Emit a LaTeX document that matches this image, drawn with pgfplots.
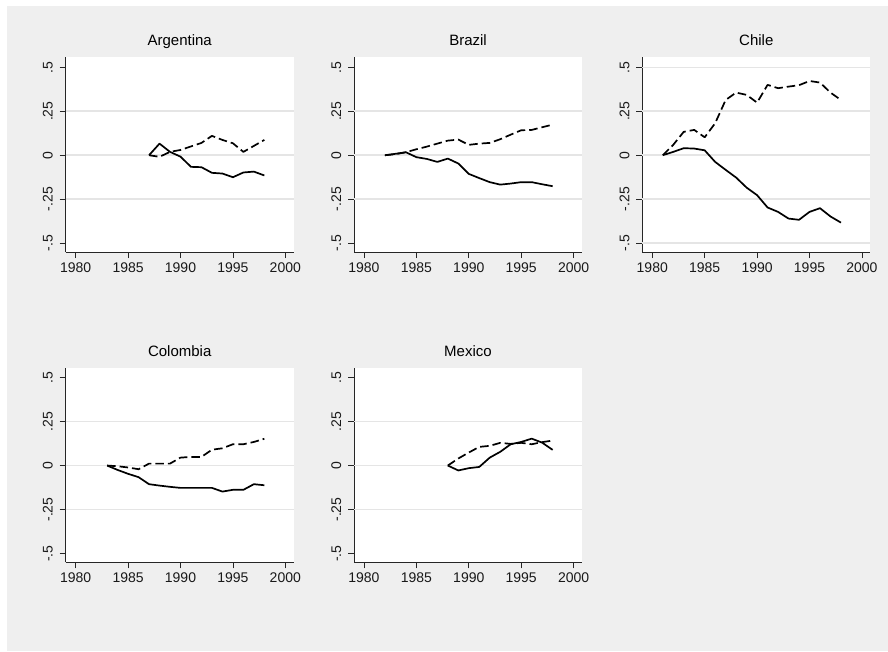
\documentclass[border=0pt]{standalone}
\usepackage{fontspec}
\setmainfont{Liberation Sans}
\usepackage{pgfplots}
\pgfplotsset{compat=1.18}
\definecolor{bgc}{RGB}{239,239,239}
\definecolor{gridc}{RGB}{229,229,229}
\pgfplotsset{
  panel/.style={
    scale only axis, width=228pt, height=194.6pt,
    xmin=1979.05, xmax=2000.8, ymin=-0.55, ymax=0.556,
    axis lines=left, axis line style={-, black!85, line width=0.9pt},
    axis background/.style={fill=white},
    tick align=outside, major tick length=6pt,
    tick style={black!85, line width=0.8pt},
    xtick={1980,1985,1990,1995,2000},
    xticklabels={1980,1985,1990,1995,2000},
    ytick={-0.5,-0.25,0,0.25,0.5},
    yticklabels={-.5,-.25,0,.25,.5},
    ticklabel style={font=\fontsize{14}{16}\selectfont, text=black!90},
    yticklabel style={xshift=-7pt, rotate=90, anchor=base},
    xticklabel style={yshift=-1pt},
    title style={font=\fontsize{15}{17}\selectfont, anchor=base, yshift=5.5pt},
    extra y ticks={-0.25,0,0.25},
    extra y tick labels={},
    extra y tick style={grid=major, major tick length=0pt, grid style={gridc, line width=1.5pt}},
    clip=false,
  },
  sol/.style={black, line width=1.7pt, line join=round},
  das/.style={black, line width=1.7pt, dash pattern=on 8.5pt off 4pt, line join=round},
}
\begin{document}
\begin{tikzpicture}[x=1pt,y=1pt]
\fill[white] (0,0) rectangle (888,-651);
\fill[bgc] (7,-6) rectangle (888,-651);

% Argentina
\begin{axis}[panel, at={(65.7pt,-252pt)}, anchor=south west, title={Argentina}]
\addplot[sol] coordinates {(1987,0) (1988,0.066) (1989,0.019) (1990,-0.008) (1991,-0.066) (1992,-0.068) (1993,-0.100) (1994,-0.104) (1995,-0.125) (1996,-0.098) (1997,-0.093) (1998,-0.115)};
\addplot[das] coordinates {(1987,0) (1988,-0.009) (1989,0.019) (1990,0.030) (1991,0.050) (1992,0.070) (1993,0.110) (1994,0.087) (1995,0.068) (1996,0.019) (1997,0.053) (1998,0.087)};
\end{axis}

% Brazil
\begin{axis}[panel, at={(354pt,-252pt)}, anchor=south west, title={Brazil}]
\addplot[sol] coordinates {(1982,0) (1983,0.008) (1984,0.017) (1985,-0.011) (1986,-0.021) (1987,-0.038) (1988,-0.019) (1989,-0.047) (1990,-0.106) (1991,-0.130) (1992,-0.153) (1993,-0.167) (1994,-0.161) (1995,-0.153) (1996,-0.153) (1997,-0.165) (1998,-0.176)};
\addplot[das] coordinates {(1982,0) (1983,0.006) (1984,0.017) (1985,0.034) (1986,0.049) (1987,0.066) (1988,0.083) (1989,0.089) (1990,0.059) (1991,0.066) (1992,0.070) (1993,0.091) (1994,0.117) (1995,0.142) (1996,0.144) (1997,0.159) (1998,0.174)};
\end{axis}

% Chile
\begin{axis}[panel, at={(642.3pt,-252pt)}, anchor=south west, title={Chile},
  extra y ticks={-0.5,-0.25,0,0.25,0.5}, extra y tick labels={}]
\addplot[sol] coordinates {(1981,0) (1982,0.019) (1983,0.040) (1984,0.038) (1985,0.028) (1986,-0.038) (1987,-0.083) (1988,-0.127) (1989,-0.184) (1990,-0.227) (1991,-0.297) (1992,-0.322) (1993,-0.360) (1994,-0.367) (1995,-0.322) (1996,-0.301) (1997,-0.348) (1998,-0.383)};
\addplot[das] coordinates {(1981,0) (1982,0.059) (1983,0.133) (1984,0.144) (1985,0.102) (1986,0.182) (1987,0.314) (1988,0.356) (1989,0.343) (1990,0.299) (1991,0.400) (1992,0.381) (1993,0.390) (1994,0.398) (1995,0.422) (1996,0.413) (1997,0.356) (1998,0.314)};
\end{axis}

% Colombia
\begin{axis}[panel, at={(65.7pt,-562.3pt)}, anchor=south west, title={Colombia}]
\addplot[sol] coordinates {(1983,0) (1984,-0.025) (1985,-0.047) (1986,-0.066) (1987,-0.106) (1988,-0.114) (1989,-0.121) (1990,-0.127) (1991,-0.127) (1992,-0.127) (1993,-0.127) (1994,-0.148) (1995,-0.138) (1996,-0.138) (1997,-0.106) (1998,-0.112)};
\addplot[das] coordinates {(1983,0) (1984,-0.004) (1985,-0.011) (1986,-0.021) (1987,0.011) (1988,0.011) (1989,0.011) (1990,0.045) (1991,0.049) (1992,0.049) (1993,0.090) (1994,0.098) (1995,0.121) (1996,0.121) (1997,0.134) (1998,0.152)};
\end{axis}

% Mexico
\begin{axis}[panel, at={(354pt,-562.3pt)}, anchor=south west, title={Mexico}]
\addplot[sol] coordinates {(1988,0) (1989,-0.028) (1990,-0.015) (1991,-0.008) (1992,0.045) (1993,0.078) (1994,0.121) (1995,0.134) (1996,0.153) (1997,0.130) (1998,0.089)};
\addplot[das] coordinates {(1988,0) (1989,0.040) (1990,0.074) (1991,0.106) (1992,0.112) (1993,0.129) (1994,0.123) (1995,0.129) (1996,0.121) (1997,0.133) (1998,0.142)};
\end{axis}
\end{tikzpicture}
\end{document}
